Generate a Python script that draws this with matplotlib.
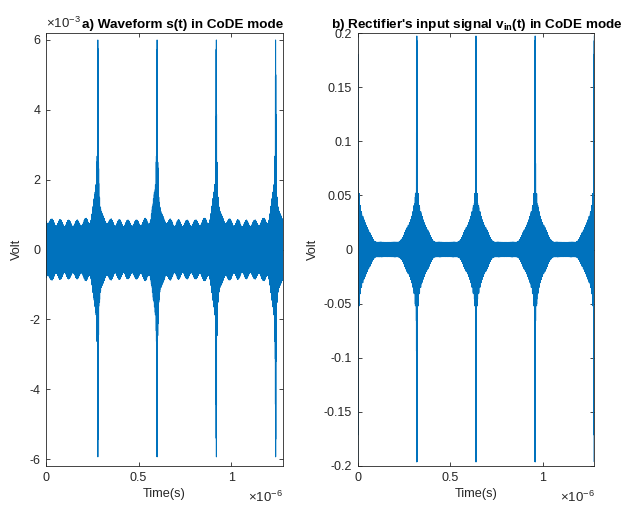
import numpy as np
import matplotlib
matplotlib.use("Agg")
import matplotlib.pyplot as plt
from matplotlib.ticker import FuncFormatter

plt.rcParams['font.family'] = ['Liberation Sans', 'DejaVu Sans']
plt.rcParams['mathtext.fontset'] = 'custom'
plt.rcParams['mathtext.rm'] = 'Liberation Sans'
plt.rcParams['mathtext.bf'] = 'Liberation Sans:bold'
plt.rcParams['axes.unicode_minus'] = False

# simulation grid
F_CARRIER = 2.5e9      # Hz
FS = 25e9              # samples per second
DF = 3.125e6           # tone spacing -> 0.32 us repetition
T_END = 1.28e-6

# a) transmitted CoDE waveform s(t)
s_peak_time = 0.28e-6
s_comb_half = 60              # flat comb, tones -60..60 around the carrier
s_comb_amp = 0.0583e-3
s_cw_amp = 0.687e-3
s_ripple_harm = 7
s_ripple_amp = 0.095e-3
s_ripple_time = 0.031e-6
s_ped_time = 0.272e-6         # short pedestal around each peak
s_ped_harm = [-8, -7, -6, -5, -4, -3, -2, -1, 0, 1, 2, 3, 4, 5, 6, 7, 8]
s_ped_amp = [0.007, 0.013, 0.020, 0.027, 0.033, 0.040, 0.047, 0.053, 0.060,
             0.053, 0.047, 0.040, 0.033, 0.027, 0.020, 0.013, 0.007]   # x1e-3

# b) rectifier input v_in(t)
v_peak_time = 0.0
v_comb_half = 50
v_comb_amp = 0.00164
v_wide_harm = [-6, -5, -4, -3, -2, -1, 0, 1, 2, 3, 4, 5, 6]
v_wide_amp = [0.00019, 0.00037, 0.00009, 0.00025, 0.00243, 0.00603, 0.00788,
              0.00603, 0.00243, 0.00025, 0.00009, 0.00037, 0.00019]
v_floor_amp = 0.005

s_yticks = [-6e-3, -4e-3, -2e-3, 0, 2e-3, 4e-3, 6e-3]
v_yticks = [-0.2, -0.15, -0.1, -0.05, 0, 0.05, 0.1, 0.15, 0.2]
xticks = [0, 0.5e-6, 1e-6]

BLUE = '#0072BD'
DARK = '#262626'


def synth(t, harm, amp, phase):
    env = np.zeros_like(t, dtype=complex)
    for h, a, p in zip(harm, amp, phase):
        env += a * np.exp(1j * (2 * np.pi * h * DF * t + p))
    return np.real(env * np.exp(2j * np.pi * F_CARRIER * t))


def delay(harm, t0, extra=0.0):
    return [extra - 2 * np.pi * k * DF * t0 for k in harm]


t = np.arange(int(round(T_END * FS)) + 1) / FS

# tone tables
h = list(range(-s_comb_half, s_comb_half + 1))
s_harm = h + [0, s_ripple_harm] + s_ped_harm
s_amp = [s_comb_amp] * len(h) + [s_cw_amp, s_ripple_amp] + \
    [a * 1e-3 for a in s_ped_amp]
s_phase = delay(h, s_peak_time) + [np.pi] + \
    delay([s_ripple_harm], s_ripple_time, np.pi) + \
    delay(s_ped_harm, s_ped_time, np.pi)
s = synth(t, s_harm, s_amp, s_phase)

h = list(range(-v_comb_half, v_comb_half + 1))
v_harm = h + v_wide_harm + [0]
v_amp = [v_comb_amp] * len(h) + v_wide_amp + [v_floor_amp]
v_phase = delay(h, v_peak_time) + delay(v_wide_harm, v_peak_time) + [0.0]
v = synth(t, v_harm, v_amp, v_phase)

fig = plt.figure(figsize=(6.21, 5.09), dpi=100)
ax1 = fig.add_axes([46 / 621, 43 / 509, 237 / 621, 433 / 509])
ax2 = fig.add_axes([357.7 / 621, 43 / 509, 236.6 / 621, 433 / 509])


def style(ax):
    for sp in ax.spines.values():
        sp.set_color(DARK)
        sp.set_linewidth(0.6)
    ax.tick_params(direction='in', length=3.1, width=0.6, color=DARK,
                   labelcolor=DARK, labelsize=9, top=True, right=True, pad=4)
    ax.set_xlim(0, T_END)
    ax.set_xticks(xticks)
    ax.xaxis.set_major_formatter(FuncFormatter(lambda x, _: f'{x * 1e6:g}'))
    ax.set_xlabel('Time(s)', fontsize=9.2, color=DARK, labelpad=3)
    ax.set_ylabel('Volt', fontsize=9.2, color=DARK)
    ax.text(1.0, -36 / 433, r'$\times\mathregular{10^{-6}}$', transform=ax.transAxes,
            ha='right', va='baseline', fontsize=9.5, color=DARK)


ax1.plot(t, s, color=BLUE, lw=0.7)
style(ax1)
ax1.set_ylim(-6.2e-3, 6.2e-3)
ax1.set_yticks(s_yticks)
ax1.yaxis.set_major_formatter(FuncFormatter(lambda y, _: f'{y * 1e3:g}'))
ax1.yaxis.set_label_coords(-0.096, 0.5)
ax1.text(0.0, 1 + 5 / 433, r'$\times\mathregular{10^{-3}}$', transform=ax1.transAxes,
         ha='left', va='baseline', fontsize=9.5, color=DARK)
fig.text(82 / 621, 1 - 28 / 509, 'a) Waveform s(t) in CoDE mode',
         ha='left', va='baseline', fontsize=9.7, fontweight='bold', color='black')

ax2.plot(t, v, color=BLUE, lw=0.7)
style(ax2)
ax2.set_ylim(-0.2, 0.2)
ax2.set_yticks(v_yticks)
ax2.yaxis.set_major_formatter(FuncFormatter(lambda y, _: f'{y:g}'))
ax2.yaxis.set_label_coords(-0.163, 0.5)
fig.text(330.7 / 621, 1 - 28 / 509,
         r"b) Rectifier's input signal v$_\mathbf{in}$(t) in CoDE mode",
         ha='left', va='baseline', fontsize=9.7, fontweight='bold', color='black')

fig.savefig('out.png', dpi=100)
